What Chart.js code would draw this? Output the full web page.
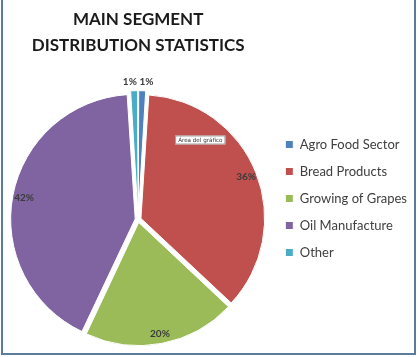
<!DOCTYPE html>
<html>
<head>
<meta charset="utf-8">
<script src="https://cdn.jsdelivr.net/npm/chart.js@4.4.1/dist/chart.umd.min.js"></script>
<style>
  html, body { margin: 0; padding: 0; background: #fff; }
  #wrap { position: relative; width: 418px; height: 357px; overflow: hidden; }
  #frame {
    position: absolute; left: 1px; top: -4px; width: 415px; height: 359px;
    box-sizing: border-box; border: 2px solid #5b7c9c; border-top: none;
    pointer-events: none;
  }
</style>
</head>
<body>
<div id="wrap">
  <canvas id="segmentChart" width="418" height="357"></canvas>
  <div id="frame"></div>
</div>
<script>
const segments = ['Agro Food Sector', 'Bread Products', 'Growing of Grapes', 'Oil Manufacture', 'Other'];
const shares = [1, 36, 20, 42, 1];
const sliceColours = ['#4F81BD', '#C0504D', '#9BBB59', '#8064A2', '#4BACC6'];
const chartTitle = ['MAIN SEGMENT', 'DISTRIBUTION STATISTICS'];
const hoverNote = 'Área del gráfico';

// percentage labels: inside the slice near the rim, small slices go above the pie
const sliceLabels = {
    id: 'sliceLabels',
    afterDatasetsDraw(chart) {
        const ctx = chart.ctx;
        const meta = chart.getDatasetMeta(0);
        const total = shares.reduce((a, b) => a + b, 0);
        ctx.save();
        ctx.font = 'bold 10px Lato';
        ctx.fillStyle = '#3b3b3b';
        ctx.textAlign = 'center';
        ctx.textBaseline = 'middle';
        meta.data.forEach((arc, i) => {
            const p = arc.getProps(['x', 'y', 'startAngle', 'endAngle', 'outerRadius'], true);
            const mid = (p.startAngle + p.endAngle) / 2;
            const shift = (arc.options.offset || 0) / 4;
            const pct = shares[i] / total * 100;
            let r, nudge = 0;
            if (pct < 5) {
                r = p.outerRadius + shift + 12;
                nudge = Math.sign(Math.cos(mid)) * 4;
            } else {
                r = p.outerRadius * 0.92 + shift;
            }
            const x = p.x + Math.cos(mid) * r + nudge;
            const y = p.y + Math.sin(mid) * r;
            ctx.fillText(Math.round(pct) + '%', x, y);
        });
        ctx.restore();
    },
    afterDraw(chart) {
        // little "chart area" hint box sitting on the red slice
        const ctx = chart.ctx;
        const centre = chart.getDatasetMeta(0).data[0];
        ctx.save();
        ctx.font = '5.6px "DejaVu Sans"';
        const w = ctx.measureText(hoverNote).width + 6;
        const bx = centre.x + 37, by = centre.y - 84;
        ctx.fillStyle = '#ffffff';
        ctx.fillRect(bx, by, w, 9);
        ctx.strokeStyle = '#8a8a8a';
        ctx.lineWidth = 0.8;
        ctx.strokeRect(bx + 0.5, by + 0.5, w - 1, 8);
        ctx.fillStyle = '#333';
        ctx.textBaseline = 'middle';
        ctx.fillText(hoverNote, bx + 3, by + 4.8);
        ctx.restore();
    }
};

// lift the legend column so it lines up with the upper part of the pie
const legendLift = {
    id: 'legendLift',
    afterLayout(chart) {
        chart.legend.top -= 21;
        chart.legend.bottom -= 21;
    }
};

new Chart(document.getElementById('segmentChart'), {
    type: 'pie',
    data: {
        labels: segments,
        datasets: [{
            data: shares,
            backgroundColor: sliceColours,
            borderColor: '#ffffff',
            borderWidth: 1,
            offset: 12
        }]
    },
    options: {
        responsive: false,
        animation: false,
        layout: { padding: { top: 4, left: 5, right: 1, bottom: 8 } },
        plugins: {
            title: {
                display: true,
                text: chartTitle,
                fullSize: false,
                color: '#1b1b1b',
                font: { family: 'Lato', size: 17, weight: 'bold', lineHeight: 1.5 },
                padding: { top: 3, bottom: 32 }
            },
            legend: {
                position: 'right',
                fullSize: false,
                labels: {
                    boxWidth: 8,
                    boxHeight: 8,
                    padding: 14,
                    color: '#404040',
                    font: { family: 'Lato', size: 13 }
                }
            },
            tooltip: { enabled: false }
        }
    },
    plugins: [sliceLabels, legendLift]
});
</script>
</body>
</html>
